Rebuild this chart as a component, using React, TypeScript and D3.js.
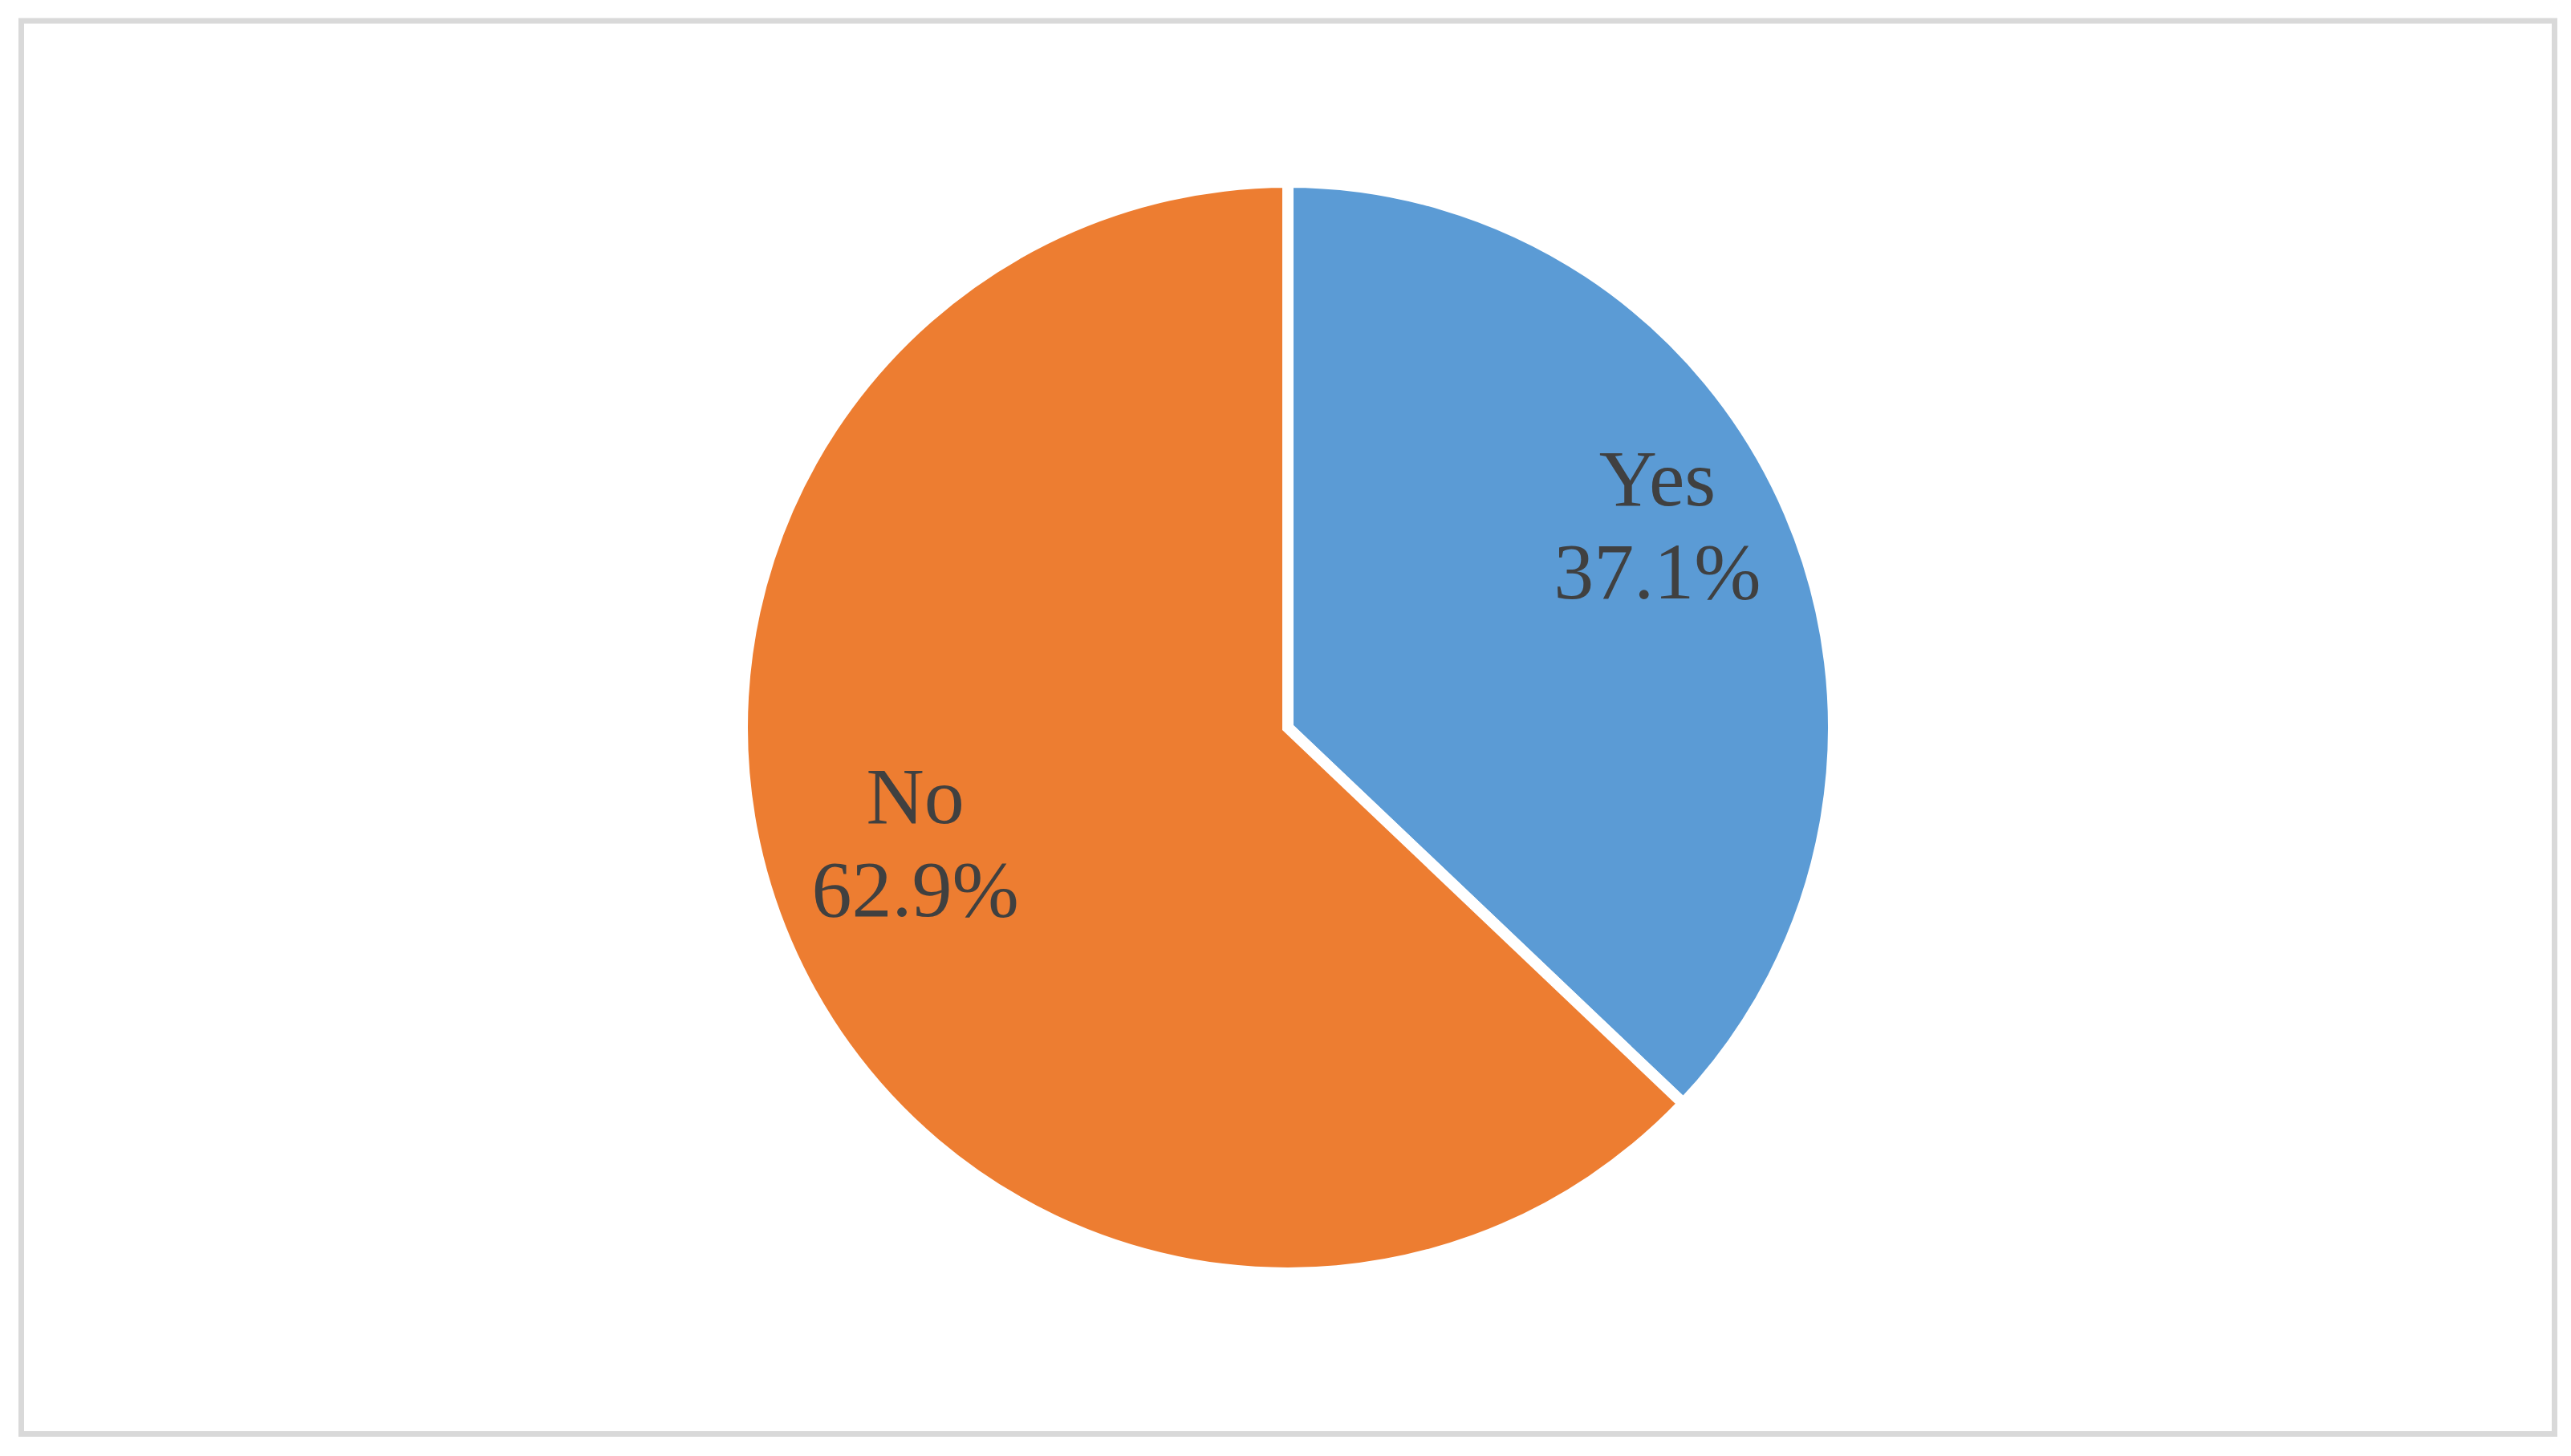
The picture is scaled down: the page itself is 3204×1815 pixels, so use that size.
import React from 'react';
import * as d3 from 'd3';

// chart data
const categories = ['Yes', 'No'];
const values = [37.1, 62.9];
const colors = ['#5B9BD5', '#ED7D31'];

const width = 3204;
const height = 1815;

export default function App() {
  const cx = 1605;
  const cy = 907;
  const radius = 680; // outer edge incl. half of the white stroke

  const data = categories.map((c, i) => ({ label: c, value: values[i], color: colors[i] }));

  const pie = d3.pie<any>()
    .sort(null)
    .value((d: any) => d.value);

  const arc = d3.arc<any>()
    .innerRadius(0)
    .outerRadius(radius);

  // labels sit on an inner ring
  const labelArc = d3.arc<any>()
    .innerRadius(radius * 0.74)
    .outerRadius(radius * 0.74);

  const arcs = pie(data);

  return (
    <svg width={width} height={height} style={{ position: 'absolute', left: 0, top: 0 }}>
      <rect x={0} y={0} width={width} height={height} fill="#ffffff" />
      <rect x={26.5} y={26} width={3157} height={1761.5} fill="#ffffff" stroke="#d9d9d9" strokeWidth={7} />
      <g transform={`translate(${cx},${cy})`}>
        {arcs.map((a, i) => (
          <path key={i} d={arc(a) as string} fill={a.data.color} stroke="#ffffff" strokeWidth={14} />
        ))}
        {arcs.map((a, i) => {
          const [x, y] = labelArc.centroid(a);
          return (
            <text key={'t' + i} textAnchor="middle" fill="#404040"
              style={{ fontFamily: '"Liberation Serif", "Times New Roman", serif', fontSize: 100 }}>
              <tspan x={x - 2} y={y - 79}>{a.data.label}</tspan>
              <tspan x={x - 2} y={y + 37}>{a.data.value.toFixed(1) + '%'}</tspan>
            </text>
          );
        })}
      </g>
    </svg>
  );
}
